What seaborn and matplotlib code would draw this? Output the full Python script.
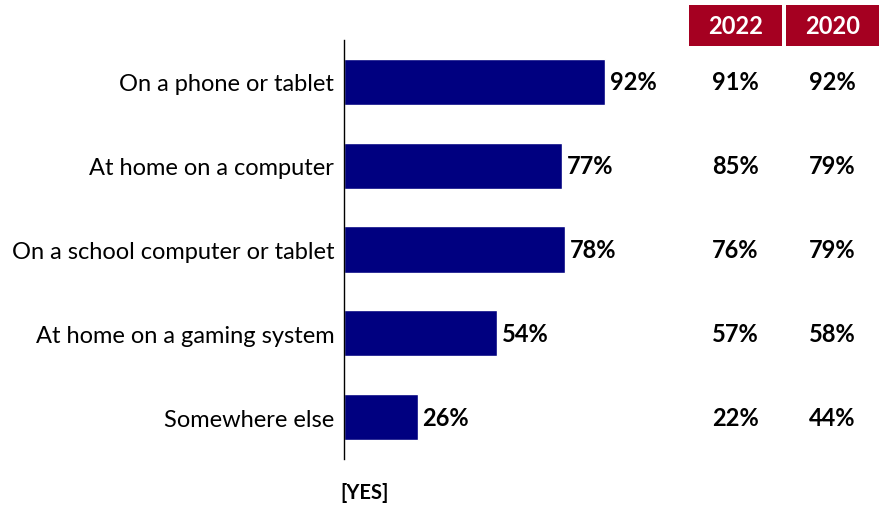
import matplotlib
matplotlib.use("Agg")
import matplotlib.pyplot as plt
from matplotlib.patches import Rectangle
from matplotlib.transforms import blended_transform_factory
import seaborn as sns
import pandas as pd

categories = [
    "On a phone or tablet",
    "At home on a computer",
    "On a school computer or tablet",
    "At home on a gaming system",
    "Somewhere else",
]
values_current = [92, 77, 78, 54, 26]
values_2022 = [91, 85, 76, 57, 22]
values_2020 = [92, 79, 79, 58, 44]
year_headers = ["2022", "2020"]

sns.set_theme(style="white")
plt.rcParams["font.family"] = ["Lato", "DejaVu Sans"]

W, H = 880, 506
fig = plt.figure(figsize=(W / 100, H / 100), dpi=100)

# axes: x=0 at px 344, 100% at ~628; y spans px 41..460
left, right_px, top_px, bot_px = 344, 627.7, 41, 460
ax = fig.add_axes([left / W, 1 - bot_px / H, (right_px - left) / W, (bot_px - top_px) / H])

df = pd.DataFrame({"cat": categories, "val": values_current})
sns.barplot(data=df, x="val", y="cat", orient="h", color="#000080",
            saturation=1, width=0.55, ax=ax)

ax.set_xlim(0, 100)
ax.set_ylim(len(categories) - 0.5, -0.5)
for s in ["top", "right", "bottom"]:
    ax.spines[s].set_visible(False)
ax.spines["left"].set_color("black")
ax.spines["left"].set_linewidth(1.0)
ax.set_xticks([])
ax.set_xlabel("")
ax.set_ylabel("")
ax.tick_params(axis="y", length=0, pad=7, labelsize=17, labelcolor="black")

for i, v in enumerate(values_current):
    ax.text(v + 1.6, i, f"{v}%", va="center", ha="left",
            fontsize=17, fontweight="bold", color="black")

# comparison columns
trans = blended_transform_factory(fig.transFigure, ax.transData)
col_x = [735 / W, 832 / W]
for cx, vals in zip(col_x, [values_2022, values_2020]):
    for i, v in enumerate(vals):
        ax.text(cx, i, f"{v}%", transform=trans, ha="center", va="center",
                fontsize=17, fontweight="bold", color="black")

# header boxes
boxes = [(689, 782), (786, 879)]
for (x0, x1), label in zip(boxes, year_headers):
    fig.patches.append(Rectangle((x0 / W, 1 - 46.5 / H), (x1 - x0) / W, 40.5 / H,
                                 transform=fig.transFigure, facecolor="#A50021",
                                 edgecolor="none"))
    fig.text((x0 + x1) / 2 / W, 1 - 26.5 / H, label, ha="center", va="center",
             fontsize=17, fontweight="bold", color="white")

fig.text(365 / W, 1 - 493 / H, "[YES]", ha="center", va="center",
         fontsize=14.5, fontweight="bold", color="black")

fig.savefig("out.png", dpi=100)
